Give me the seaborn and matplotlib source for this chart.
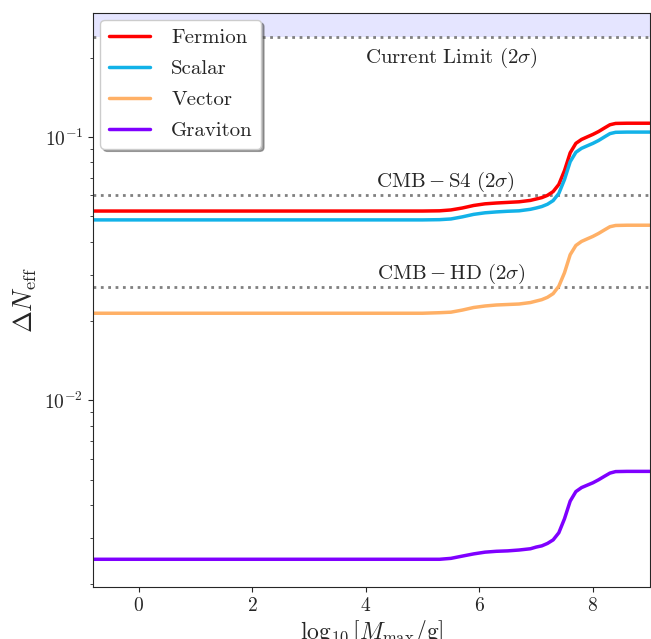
import numpy as np
import pandas as pd
import matplotlib
matplotlib.use("Agg")
import matplotlib.pyplot as plt
import seaborn as sns

# log10(M_max / g)
log_mmax = [-0.8, 0.0, 2.0, 4.0, 5.0, 5.3, 5.5, 5.7, 5.9, 6.1, 6.3, 6.5, 6.7, 6.9, 7.0, 7.1,
            7.2, 7.3, 7.4, 7.5, 7.6, 7.7, 7.8, 7.9, 8.0, 8.1, 8.2, 8.3, 8.4, 8.6, 9.0]

fermion = [0.0523, 0.0523, 0.0523, 0.0523, 0.0523, 0.0524, 0.0528, 0.0537, 0.0549, 0.0557, 0.0561,
           0.0564, 0.0567, 0.0574, 0.0581, 0.0588, 0.0600, 0.0620, 0.0660, 0.0745, 0.0870, 0.0945,
           0.0978, 0.1000, 0.1022, 0.1048, 0.1080, 0.1112, 0.1125, 0.1127, 0.1127]
scalar = [0.0484, 0.0484, 0.0484, 0.0484, 0.0484, 0.0485, 0.0488, 0.0497, 0.0508, 0.0515, 0.0519,
          0.0522, 0.0524, 0.0531, 0.0537, 0.0544, 0.0555, 0.0573, 0.0610, 0.0689, 0.0805, 0.0874,
          0.0905, 0.0925, 0.0945, 0.0969, 0.0999, 0.1029, 0.1041, 0.1043, 0.1043]
vector = [0.0214, 0.0214, 0.0214, 0.0214, 0.0214, 0.0215, 0.0216, 0.0220, 0.0225, 0.0228, 0.0230,
          0.0231, 0.0232, 0.0235, 0.0238, 0.0241, 0.0246, 0.0254, 0.0271, 0.0305, 0.0357, 0.0387,
          0.0401, 0.0410, 0.0419, 0.0430, 0.0443, 0.0456, 0.0461, 0.0462, 0.0462]
graviton = [0.00249, 0.00249, 0.00249, 0.00249, 0.00249, 0.00249, 0.00251, 0.00256, 0.00261,
            0.00265, 0.00267, 0.00268, 0.00270, 0.00273, 0.00277, 0.00280, 0.00286, 0.00295,
            0.00314, 0.00355, 0.00414, 0.00450, 0.00466, 0.00476, 0.00486, 0.00499, 0.00514,
            0.00529, 0.00536, 0.00537, 0.00537]

species = ["Fermion", "Scalar", "Vector", "Graviton"]
colors = ["#ff0000", "#12b2e8", "#ffb066", "#7f00ff"]

# sensitivity limits on Delta N_eff (2 sigma)
current_limit = 0.24
cmb_s4 = 0.06
cmb_hd = 0.027

df = pd.DataFrame({
    "x": log_mmax * 4,
    "dneff": fermion + scalar + vector + graviton,
    "species": sum([[s] * len(log_mmax) for s in species], []),
})

sns.set_style("ticks")
plt.rcParams["font.family"] = "serif"
plt.rcParams["font.serif"] = ["cmr10", "DejaVu Serif"]
plt.rcParams["mathtext.fontset"] = "cm"
plt.rcParams["axes.formatter.use_mathtext"] = True

fig = plt.figure(figsize=(6.51, 6.39), dpi=100)
ax = fig.add_axes([0.143, 0.081, 0.855, 0.899])

ylo, yhi = 0.00195, 0.296
ax.axhspan(current_limit, yhi, color="blue", alpha=0.1, lw=0)
for lim in [current_limit, cmb_s4, cmb_hd]:
    ax.axhline(lim, color="gray", ls=":", lw=2)

sns.lineplot(data=df, x="x", y="dneff", hue="species", palette=colors, lw=2.5, ax=ax)

ax.text(5.5, 0.2, r"$\mathrm{Current\ Limit}\ (2\sigma)$", ha="center", va="center", fontsize=15)
ax.text(5.4, 0.0672, r"$\mathrm{CMB-S4}\ (2\sigma)$", ha="center", va="center", fontsize=15)
ax.text(5.5, 0.0303, r"$\mathrm{CMB-HD}\ (2\sigma)$", ha="center", va="center", fontsize=15)

ax.set_yscale("log")
ax.set_xlim(-0.8, 9.0)
ax.set_ylim(ylo, yhi)
ax.set_xticks([0, 2, 4, 6, 8])
ax.tick_params(labelsize=14)
ax.set_xlabel(r"$\log_{10}[M_{\rm max}/{\rm g}]$", fontsize=17, labelpad=2)
ax.set_ylabel(r"$\Delta N_{\rm eff}$", fontsize=19)

leg = ax.legend(loc="upper left", fontsize=15, shadow=True, fancybox=True, framealpha=1,
                handlelength=2.0, borderaxespad=0.35, labelspacing=0.6, handletextpad=1.0)
leg.get_frame().set_edgecolor("#cccccc")

fig.savefig("out.png", dpi=100)
